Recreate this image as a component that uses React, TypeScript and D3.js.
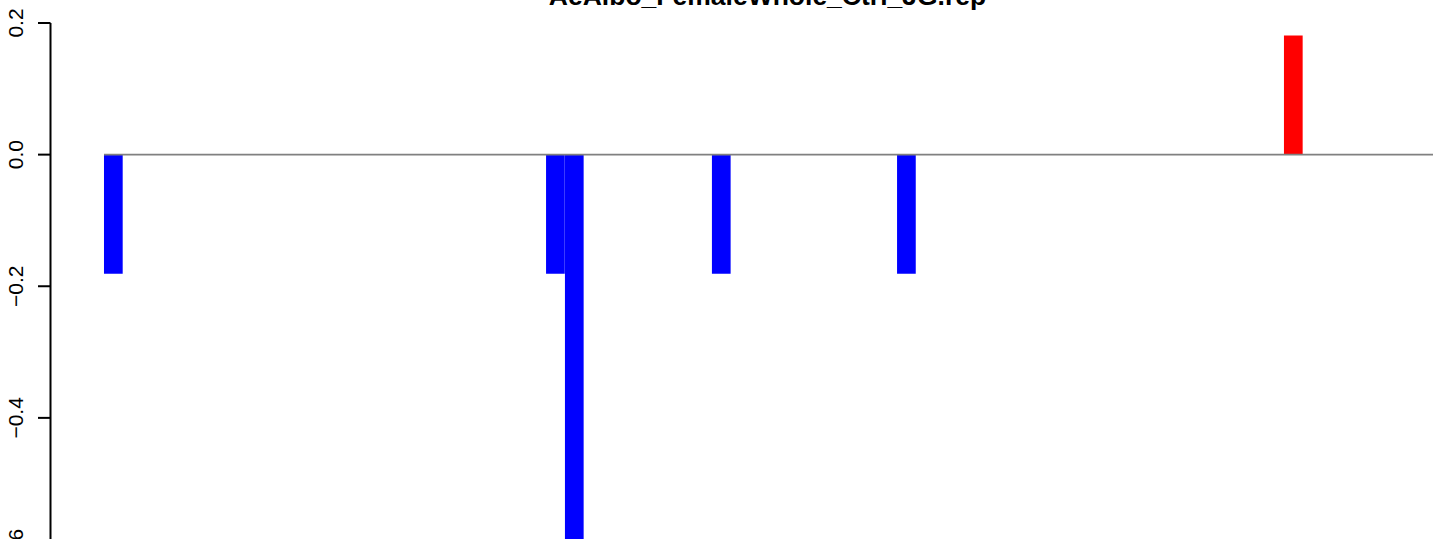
import React from "react";
import * as d3 from "d3";

const title = "AeAlbo_FemaleWhole_Ctrl_JG.rep";
const positions = [2.78, 26.42, 27.43, 35.29, 45.19, 65.88];
const values = [-0.181, -0.181, -0.68, -0.181, -0.181, 0.181];
const yTicks = [0.2, 0.0, -0.2, -0.4, -0.6];

const W = 1433;
const H = 539;

export default function App() {
  const x = d3.scaleLinear().domain([0, 76]).range([52, 52 + 76 * 18.7]);
  const y = d3.scaleLinear().domain([-0.6, 0.2]).range([549.5, 23]);
  const bw = x(1) - x(0);
  const fmt = (v: number) => {
    const s = v.toFixed(1);
    return v < 0 ? "\u2212" + s.slice(1) : s === "-0.0" ? "0.0" : s;
  };
  const axisX = 50.5;
  return (
    <svg
      width={W}
      height={H}
      style={{ position: "absolute", left: 0, top: 0, background: "#fff" }}
      fontFamily="'Liberation Sans', Arial, sans-serif"
    >
      <rect x={0} y={0} width={W} height={H} fill="#fff" />
      {positions.map((p, i) => {
        const v = values[i];
        const y0 = y(0);
        const y1 = y(v);
        return (
          <rect
            key={i}
            x={x(p)}
            y={Math.min(y0, y1)}
            width={bw}
            height={Math.abs(y1 - y0)}
            fill={v >= 0 ? "#FF0000" : "#0000FF"}
          />
        );
      })}
      <line
        x1={x(positions[0])}
        x2={W}
        y1={y(0)}
        y2={y(0)}
        stroke="#808080"
        strokeWidth={1.6}
      />
      <line x1={axisX} x2={axisX} y1={y(0.2)} y2={H + 20} stroke="#000" strokeWidth={2} />
      {yTicks.map((t) => (
        <g key={t}>
          <line x1={38} x2={axisX} y1={y(t)} y2={y(t)} stroke="#000" strokeWidth={2} />
          <text
            transform={`translate(22.5,${y(t)}) rotate(-90)`}
            textAnchor="middle"
            fontSize={21}
            fill="#000"
          >
            {fmt(t)}
          </text>
        </g>
      ))}
      <text x={767.5} y={5} textAnchor="middle" fontSize={26.5} fontWeight="bold" fill="#000">
        {title}
      </text>
    </svg>
  );
}
